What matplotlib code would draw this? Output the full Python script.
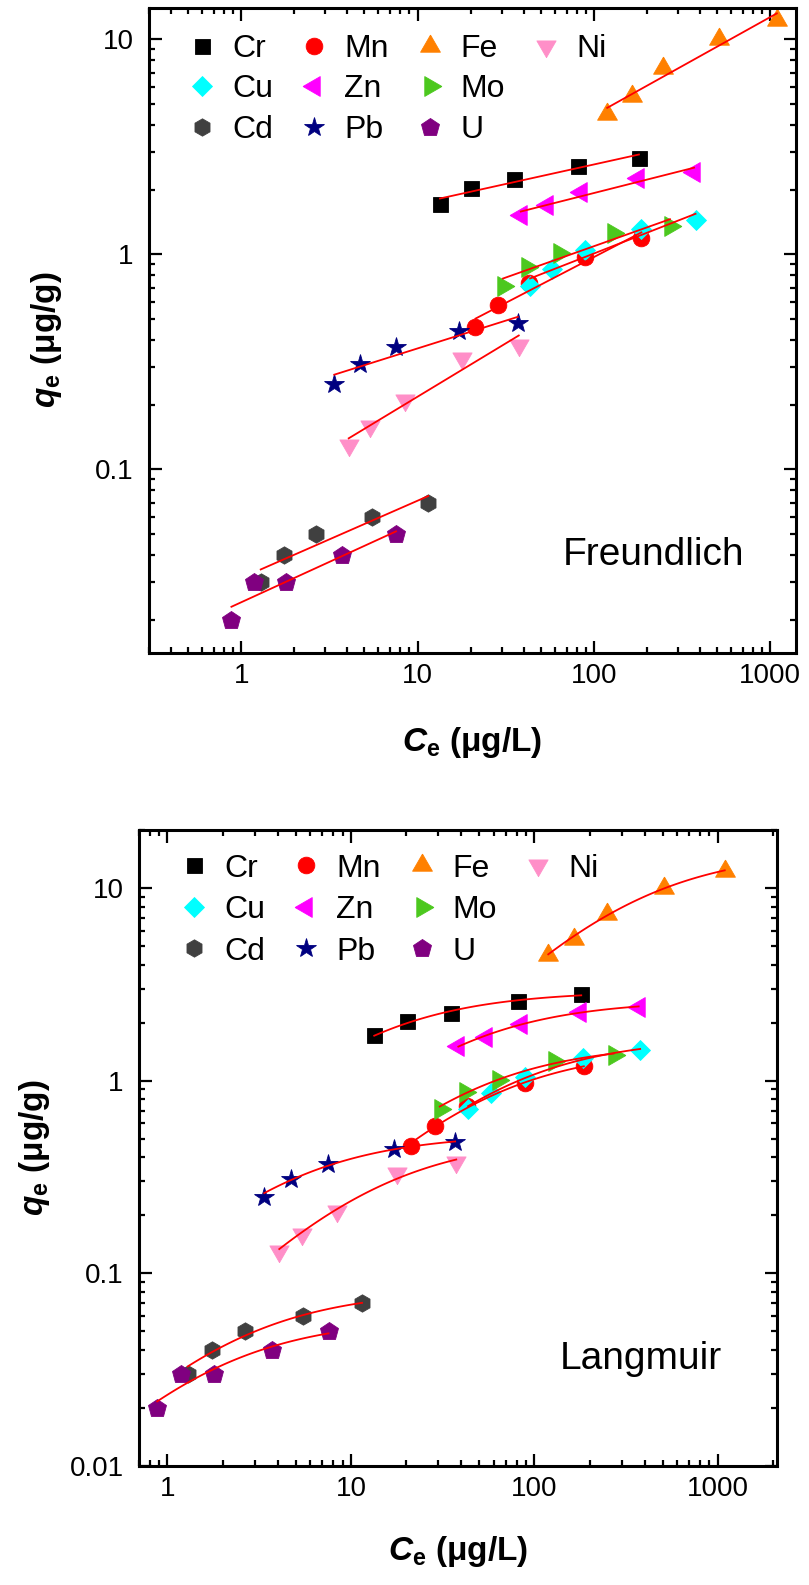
import numpy as np
import matplotlib
matplotlib.use("Agg")
import matplotlib.pyplot as plt
from matplotlib.lines import Line2D
from matplotlib.ticker import LogLocator, FuncFormatter, NullFormatter

plt.rcParams['font.family'] = ['Liberation Sans', 'DejaVu Sans']
plt.rcParams['mathtext.fontset'] = 'custom'
plt.rcParams['mathtext.rm'] = 'Liberation Sans:bold'
plt.rcParams['mathtext.it'] = 'Liberation Sans:italic:bold'
plt.rcParams['mathtext.bf'] = 'Liberation Sans:bold'

# ---- equilibrium data: Ce (ug/L) and qe (ug/g) for each metal ----
metals = ["Cr", "Mn", "Fe", "Ni", "Cu", "Zn", "Mo", "Cd", "Pb", "U"]

ce_cr = [13.4, 20.2, 35.3, 81.0, 180.0]
qe_cr = [1.72, 2.03, 2.24, 2.58, 2.82]
ce_mn = [21.3, 28.7, 43.0, 89.0, 186.0]
qe_mn = [0.46, 0.58, 0.74, 0.97, 1.19]
ce_fe = [119.0, 164.0, 248.0, 510.0, 1090.0]
qe_fe = [4.5, 5.45, 7.35, 10.0, 12.3]
ce_ni = [4.07, 5.4, 8.45, 17.9, 37.5]
qe_ni = [0.13, 0.16, 0.21, 0.33, 0.38]
ce_cu = [43.5, 58.0, 89.0, 184.0, 377.0]
qe_cu = [0.71, 0.86, 1.05, 1.31, 1.44]
ce_zn = [38.5, 54.5, 85.0, 178.0, 370.0]
qe_zn = [1.52, 1.69, 1.96, 2.27, 2.42]
ce_mo = [30.5, 42.0, 63.0, 128.0, 270.0]
qe_mo = [0.71, 0.87, 1.01, 1.26, 1.36]
ce_cd = [1.29, 1.75, 2.65, 5.5, 11.5]
qe_cd = [0.03, 0.04, 0.05, 0.06, 0.07]
ce_pb = [3.37, 4.73, 7.5, 17.1, 37.0]
qe_pb = [0.25, 0.31, 0.37, 0.44, 0.48]
ce_u = [0.88, 1.18, 1.8, 3.72, 7.55]
qe_u = [0.02, 0.03, 0.03, 0.04, 0.05]

ce_data = [ce_cr, ce_mn, ce_fe, ce_ni, ce_cu, ce_zn, ce_mo, ce_cd, ce_pb, ce_u]
qe_data = [qe_cr, qe_mn, qe_fe, qe_ni, qe_cu, qe_zn, qe_mo, qe_cd, qe_pb, qe_u]

# legend reads row by row: Cr Mn Fe Ni / Cu Zn Mo / Cd Pb U
# (matplotlib fills columns, so list column by column; blanks pad the last one)
legend_order = ["Cr", "Cu", "Cd", "Mn", "Zn", "Pb", "Fe", "Mo", "U", "Ni", "", ""]

# ---- marker styles ----
s3 = np.sqrt(3) / 2
tri_up = [(0, 1), (-s3, -0.5), (s3, -0.5), (0, 1)]
tri_dn = [(0, -1), (-s3, 0.5), (s3, 0.5), (0, -1)]
tri_lt = [(-1, 0), (0.5, s3), (0.5, -s3), (-1, 0)]
tri_rt = [(1, 0), (-0.5, s3), (-0.5, -s3), (1, 0)]

styles = {
    "Cr": dict(marker="s", ms=10.8, color="#000000"),
    "Mn": dict(marker="o", ms=12.0, color="#FF0000"),
    "Fe": dict(marker=tri_up, ms=16.5, color="#FF8000"),
    "Ni": dict(marker=tri_dn, ms=16.0, color="#FF8FC8"),
    "Cu": dict(marker="D", ms=10.0, color="#00FFFF"),
    "Zn": dict(marker=tri_lt, ms=16.5, color="#FF00FF"),
    "Mo": dict(marker=tri_rt, ms=16.5, color="#4CC81E"),
    "Cd": dict(marker="h", ms=12.5, color="#404040"),
    "Pb": dict(marker="*", ms=14.5, color="#000080"),
    "U": dict(marker="p", ms=13.5, color="#800080"),
}


def freundlich_curve(c, q):
    lc, lq = np.log10(c), np.log10(q)
    slope, icpt = np.polyfit(lc, lq, 1)
    cc = np.logspace(lc.min(), lc.max(), 100)
    return cc, 10 ** (icpt + slope * np.log10(cc))


def langmuir_curve(c, q):
    c, q = np.asarray(c), np.asarray(q)
    kk = np.logspace(-5, 2, 6000)[:, None]
    f = kk * c / (1 + kk * c)
    qm = (f * q).sum(1) / (f * f).sum(1)
    sse = ((qm[:, None] * f - q) ** 2).sum(1)
    i = np.argmin(sse)
    k, qmax = kk[i, 0], qm[i]
    cc = np.logspace(np.log10(c.min()), np.log10(c.max()), 100)
    return cc, qmax * k * cc / (1 + k * cc)


W, H = 809, 1585
fig = plt.figure(figsize=(W / 100, H / 100), dpi=100)


def axes_px(l, t, r, b):
    return fig.add_axes([l / W, 1 - b / H, (r - l) / W, (b - t) / H])


ax1 = axes_px(149, 8, 796, 653)
ax2 = axes_px(139, 830, 777, 1466)

panels = [
    (ax1, freundlich_curve, "Freundlich", (0.3, 1400), (0.014, 14),
     (0.057, 0.96), 0.33, (0.779, 0.136), -0.111, (-0.131, 0.485)),
    (ax2, langmuir_curve, "Langmuir", (0.7, 2100), (0.01, 20),
     (0.061, 0.963), 0.36, (0.787, 0.152), -0.107, (-0.136, 0.5)),
]

fmt = FuncFormatter(lambda v, p: f"{v:g}")

for ax, model, name, xl, yl, leg_xy, lsp, txt_xy, xlab_y, ylab_xy in panels:
    ax.set_xscale("log")
    ax.set_yscale("log")
    for m, c, q in zip(metals, ce_data, qe_data):
        st = styles[m]
        ax.plot(c, q, ls="none", marker=st["marker"], ms=st["ms"],
                color=st["color"], mec=st["color"], mew=0.6, zorder=2)
        cc, qq = model(c, q)
        ax.plot(cc, qq, color="#FF0000", lw=1.3, zorder=3)
    ax.set_xlim(*xl)
    ax.set_ylim(*yl)

    for axis in (ax.xaxis, ax.yaxis):
        axis.set_major_locator(LogLocator(base=10, numticks=12))
        axis.set_minor_locator(LogLocator(base=10, subs=np.arange(2, 10), numticks=12))
        axis.set_major_formatter(fmt)
        axis.set_minor_formatter(NullFormatter())
    ax.tick_params(which="both", direction="in", top=True, right=True,
                   width=1.6, labelsize=20)
    ax.tick_params(which="major", length=9)
    ax.tick_params(which="minor", length=4.5)
    ax.tick_params(axis="x", pad=7)
    ax.tick_params(axis="y", pad=11)
    for sp in ax.spines.values():
        sp.set_linewidth(2.2)

    handles = []
    for m in legend_order:
        if m:
            st = styles[m]
            handles.append(Line2D([], [], ls="none", marker=st["marker"],
                                  ms=st["ms"], color=st["color"],
                                  mec=st["color"], mew=0.6))
        else:
            handles.append(Line2D([], [], ls="none", marker=None))
    ax.legend(handles, legend_order, loc="upper left", bbox_to_anchor=leg_xy,
              ncol=4, frameon=False, fontsize=23, handlelength=1.0,
              handletextpad=0.45, columnspacing=0.78, labelspacing=lsp,
              borderpad=0, borderaxespad=0)

    ax.text(txt_xy[0], txt_xy[1], name, transform=ax.transAxes,
            ha="center", va="baseline", fontsize=28)

    ax.set_xlabel(r"$C_\mathrm{e}$ (μg/L)", fontsize=24, fontweight="bold")
    ax.set_ylabel(r"$q_\mathrm{e}$ (μg/g)", fontsize=24, fontweight="bold")
    ax.xaxis.set_label_coords(0.5, xlab_y)
    ax.yaxis.set_label_coords(*ylab_xy)

fig.savefig("out.png", dpi=100)
